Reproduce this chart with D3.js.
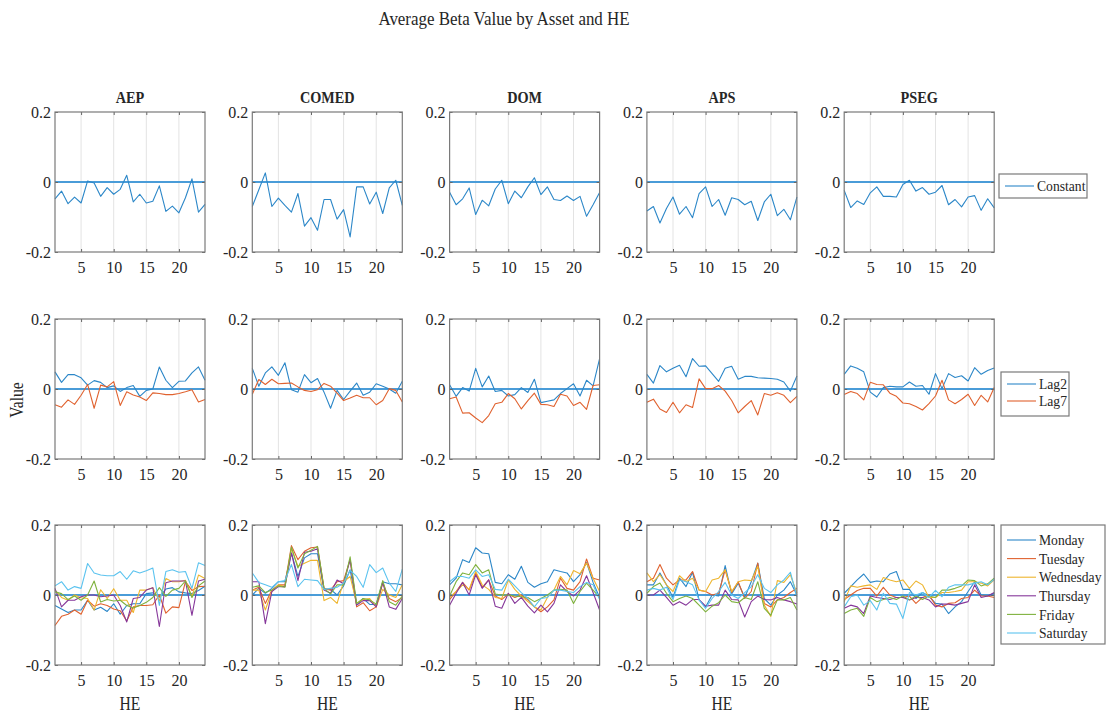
<!DOCTYPE html>
<html>
<head>
<meta charset="utf-8">
<script src="https://cdn.jsdelivr.net/npm/d3@7"></script>
<style>
  html, body { margin: 0; padding: 0; background: #fff; }
  svg text { font-family: "Liberation Serif", "Times New Roman", serif; fill: #262626; }
</style>
</head>
<body>
<svg id="chart" width="1112" height="716"></svg>
<script>
// ---------------- DATA ----------------
const assets = ["AEP", "COMED", "DOM", "APS", "PSEG"];
const hours = d3.range(1, 25);
const xTickValues = [5, 10, 15, 20];
const yTickValues = [-0.2, 0, 0.2];
const yTickLabels = ["-0.2", "0", "0.2"];
const rowSeriesNames = [["Constant"], ["Lag2", "Lag7"], ["Monday", "Tuesday", "Wednesday", "Thursday", "Friday", "Saturday"]];

// Row 1: Constant
const constAEP   = [-0.048,-0.026,-0.062,-0.043,-0.060,0.003,-0.003,-0.041,-0.016,-0.035,-0.021,0.019,-0.057,-0.035,-0.060,-0.055,-0.011,-0.084,-0.069,-0.088,-0.045,0.009,-0.086,-0.064];
const constCOMED = [-0.070,-0.022,0.026,-0.070,-0.046,-0.067,-0.086,-0.033,-0.126,-0.102,-0.138,-0.050,-0.050,-0.106,-0.079,-0.157,-0.014,-0.014,-0.063,-0.029,-0.090,-0.017,0.005,-0.067];
const constDOM   = [-0.029,-0.065,-0.048,-0.017,-0.093,-0.052,-0.068,-0.020,0.005,-0.062,-0.026,-0.045,-0.014,0.012,-0.036,-0.014,-0.050,-0.053,-0.040,-0.053,-0.041,-0.098,-0.065,-0.030];
const constAPS   = [-0.083,-0.070,-0.117,-0.076,-0.043,-0.092,-0.070,-0.102,-0.033,-0.014,-0.070,-0.050,-0.095,-0.045,-0.050,-0.065,-0.055,-0.110,-0.057,-0.035,-0.096,-0.078,-0.108,-0.043];
const constPSEG  = [-0.024,-0.073,-0.054,-0.064,-0.031,-0.014,-0.041,-0.041,-0.043,-0.007,0.005,-0.026,-0.016,-0.035,-0.029,-0.010,-0.065,-0.050,-0.071,-0.043,-0.039,-0.081,-0.048,-0.074];

// Row 2: Lag2 / Lag7
const lag2AEP   = [0.049,0.019,0.041,0.041,0.032,0.011,0.024,0.019,0.004,0.009,-0.007,0.004,0.010,-0.021,-0.004,0.000,0.063,0.025,0.004,0.022,0.023,0.046,0.063,0.025];
const lag7AEP   = [-0.045,-0.052,-0.031,-0.044,-0.018,0.013,-0.055,0.011,0.006,0.021,-0.047,-0.008,-0.017,-0.023,-0.033,-0.011,-0.013,-0.016,-0.016,-0.013,-0.008,-0.002,-0.037,-0.030];
const lag2COMED = [0.059,0.008,0.046,0.063,0.039,0.075,-0.002,-0.009,0.041,0.018,0.030,-0.009,-0.055,-0.004,-0.030,-0.006,0.017,-0.018,-0.009,0.015,0.008,0.000,-0.012,0.022];
const lag7COMED = [-0.015,0.027,0.013,0.028,0.015,0.016,0.017,0.006,-0.004,-0.007,-0.002,0.016,0.008,-0.012,-0.033,-0.026,-0.018,-0.025,-0.025,-0.045,-0.033,0.001,-0.004,-0.037];
const lag2DOM   = [0.012,-0.021,0.004,-0.006,0.059,0.006,0.037,-0.007,-0.004,-0.020,-0.016,0.004,-0.010,0.028,-0.039,-0.035,-0.031,-0.013,0.001,0.015,-0.020,0.025,0.009,0.087];
const lag7DOM   = [-0.028,-0.023,-0.069,-0.068,-0.083,-0.096,-0.076,-0.042,-0.038,-0.013,-0.028,-0.057,-0.033,-0.012,-0.044,-0.045,-0.050,-0.015,-0.020,-0.047,-0.038,-0.058,0.010,0.012];
const lag2APS   = [0.042,0.017,0.067,0.049,0.059,0.068,0.035,0.087,0.065,0.066,0.044,0.022,0.059,0.065,0.028,0.036,0.036,0.032,0.031,0.030,0.028,0.020,-0.006,0.037];
const lag7APS   = [-0.038,-0.029,-0.057,-0.067,-0.038,-0.068,-0.045,-0.053,0.029,0.001,0.001,0.010,-0.006,-0.033,-0.068,-0.050,-0.033,-0.074,-0.013,-0.018,-0.011,-0.018,-0.039,-0.021];
const lag2PSEG  = [0.042,0.066,0.059,0.049,-0.009,-0.023,0.004,0.008,0.006,0.006,0.020,0.008,0.010,-0.015,0.044,0.001,0.044,0.033,0.038,0.023,0.061,0.042,0.053,0.060];
const lag7PSEG  = [-0.016,-0.007,-0.013,-0.031,0.019,0.013,0.012,-0.012,-0.021,-0.040,-0.042,-0.050,-0.060,-0.042,-0.020,0.025,-0.031,-0.042,-0.030,-0.015,-0.047,-0.018,-0.037,0.004];

// Row 3: day-of-week effects
const monAEP = [-0.030,-0.040,-0.050,-0.043,-0.043,-0.015,-0.043,-0.035,-0.047,-0.025,-0.055,-0.030,-0.025,-0.025,0.004,0.006,-0.006,0.017,0.021,0.009,0.006,0.004,0.013,0.025];
const tueAEP = [-0.087,-0.061,-0.055,-0.043,-0.055,-0.015,-0.032,-0.025,-0.030,-0.040,-0.045,-0.074,-0.034,-0.030,-0.030,-0.028,0.000,-0.052,-0.034,-0.036,0.038,0.013,0.024,0.025];
const wedAEP = [0.014,-0.007,-0.015,0.000,-0.008,-0.010,-0.043,0.015,-0.010,0.018,-0.015,-0.015,-0.050,0.014,0.014,0.021,-0.017,0.047,0.038,0.038,0.042,-0.005,0.057,0.047];
const thuAEP = [0.019,-0.034,-0.015,-0.015,-0.005,0.000,0.000,-0.005,-0.003,0.000,-0.030,-0.077,-0.010,-0.007,0.014,0.021,-0.090,0.035,0.040,0.040,0.040,-0.058,0.040,0.045];
const friAEP = [0.009,0.004,-0.013,-0.003,-0.015,0.000,0.040,-0.020,-0.013,-0.017,-0.015,-0.030,-0.037,-0.030,-0.021,-0.007,0.021,-0.004,0.014,0.019,0.040,-0.007,0.026,0.040];
const satAEP = [0.026,0.038,0.014,0.024,0.019,0.090,0.063,0.057,0.055,0.055,0.067,0.045,0.069,0.063,0.069,0.077,-0.030,0.067,0.072,0.065,0.067,0.019,0.092,0.084];

const monCOMED = [0.000,0.019,0.005,0.019,0.038,0.038,0.120,0.053,0.106,0.118,0.118,0.016,0.016,0.000,0.026,0.072,-0.029,-0.010,-0.027,-0.027,0.038,0.032,0.032,0.029];
const tueCOMED = [0.014,0.022,-0.024,0.014,0.029,0.029,0.141,0.101,0.125,0.135,0.137,0.019,0.014,0.038,0.041,0.101,-0.034,-0.022,-0.045,-0.034,0.034,-0.010,-0.019,-0.007];
const wedCOMED = [0.014,0.014,-0.043,0.010,0.029,0.024,0.132,0.082,0.091,0.099,0.099,-0.016,-0.007,-0.024,0.038,0.053,-0.024,-0.013,-0.010,-0.034,0.016,0.000,-0.007,0.029];
const thuCOMED = [0.038,0.038,-0.082,0.010,0.024,0.024,0.120,0.041,0.122,0.125,0.132,0.014,0.005,0.043,0.032,0.101,-0.029,-0.016,-0.016,-0.034,0.036,-0.034,-0.041,-0.010];
const friCOMED = [0.022,0.026,0.007,0.014,0.026,0.022,0.137,0.077,0.118,0.128,0.139,0.019,0.003,0.029,0.029,0.109,-0.024,-0.010,-0.014,-0.026,0.041,-0.019,-0.029,-0.003];
const satCOMED = [0.063,0.036,0.029,0.022,0.038,0.041,0.087,0.024,0.045,0.043,0.041,0.016,0.019,0.022,0.034,0.070,0.053,0.022,0.087,0.064,0.077,0.034,0.010,0.074];

const monDOM = [0.029,0.048,0.101,0.093,0.135,0.120,0.118,0.036,0.032,0.058,0.045,0.082,0.036,0.022,0.032,0.038,0.072,0.067,0.063,0.038,0.058,0.093,0.036,-0.007];
const tueDOM = [-0.013,0.010,0.036,0.014,0.063,0.022,0.043,-0.003,-0.013,0.003,-0.007,0.000,-0.014,-0.034,-0.048,-0.034,-0.014,0.048,0.019,0.014,0.038,0.103,0.048,0.043];
const wedDOM = [-0.007,0.010,0.029,0.016,0.067,0.029,0.016,-0.007,-0.010,0.043,0.016,-0.003,-0.019,-0.034,-0.043,-0.007,0.014,0.053,0.029,0.070,0.061,0.091,0.048,0.010];
const thuDOM = [-0.029,0.005,0.036,0.000,0.058,0.019,0.043,-0.032,-0.038,0.005,-0.024,-0.007,-0.032,-0.051,-0.029,-0.048,-0.024,0.029,0.010,-0.003,0.014,0.055,0.007,-0.043];
const friDOM = [-0.003,0.038,0.063,0.058,0.087,0.063,0.072,0.003,0.000,0.000,-0.003,-0.005,-0.007,-0.019,-0.010,0.000,0.014,0.016,0.014,-0.024,0.010,0.034,0.014,-0.007];
const satDOM = [0.038,0.053,0.053,0.048,0.072,0.053,0.058,0.016,0.014,0.045,0.026,0.007,-0.010,-0.034,-0.010,-0.007,0.014,0.014,0.010,0.007,0.024,0.036,0.029,-0.013];

const monAPS = [0.029,0.029,0.063,0.029,-0.007,0.048,0.024,0.065,-0.014,-0.034,0.000,-0.003,0.084,0.003,0.034,-0.007,0.038,0.091,-0.010,-0.029,0.000,0.014,0.038,0.000];
const tueAPS = [0.038,0.048,0.087,0.048,0.029,0.043,0.043,0.067,0.014,0.010,0.000,0.005,0.072,0.007,0.038,-0.010,0.010,0.091,-0.024,-0.034,-0.014,-0.007,0.007,0.019];
const wedAPS = [0.063,0.038,0.058,0.029,0.010,0.055,0.038,0.048,0.014,0.010,0.043,0.048,0.072,0.010,0.038,0.043,0.041,0.082,-0.029,-0.061,0.041,0.036,0.058,0.005];
const thuAPS = [0.000,0.000,0.014,-0.007,-0.029,-0.019,-0.029,-0.013,-0.013,-0.032,-0.029,-0.029,0.014,-0.013,-0.014,-0.063,-0.019,-0.003,-0.013,-0.014,-0.007,-0.014,-0.019,-0.026];
const friAPS = [0.005,0.024,0.034,0.005,-0.019,-0.010,-0.003,-0.010,-0.029,-0.048,-0.032,-0.022,0.000,-0.019,-0.022,-0.007,-0.013,0.038,-0.038,-0.058,-0.014,-0.014,-0.007,-0.043];
const satAPS = [0.014,0.019,0.014,0.022,-0.013,0.043,0.038,0.029,-0.014,-0.038,-0.010,0.010,0.036,0.000,-0.010,0.007,0.024,0.058,0.019,0.007,0.029,0.043,0.065,-0.005];

const monPSEG = [0.005,0.024,0.043,0.060,0.036,0.040,0.038,0.060,0.067,0.016,0.016,-0.010,0.007,-0.003,-0.024,-0.026,-0.053,-0.034,-0.019,0.010,0.038,0.000,-0.003,0.005];
const tuePSEG = [-0.013,0.000,0.013,0.019,0.019,-0.003,0.022,0.000,-0.007,-0.007,-0.003,-0.024,-0.007,0.000,-0.029,-0.034,-0.024,-0.022,-0.010,-0.007,0.014,-0.003,-0.003,-0.007];
const wedPSEG = [-0.019,0.026,0.022,0.026,0.029,0.016,0.050,0.043,0.038,0.043,0.019,0.040,0.029,-0.007,-0.007,0.007,0.007,0.010,0.014,0.038,0.038,0.034,0.026,0.043];
const thuPSEG = [-0.038,-0.029,-0.034,-0.053,-0.003,-0.007,-0.010,-0.013,-0.007,-0.007,-0.014,-0.007,-0.007,-0.014,-0.034,-0.026,-0.026,-0.029,-0.024,-0.019,0.029,-0.007,-0.003,0.007];
const friPSEG = [-0.053,-0.043,-0.038,-0.061,-0.007,-0.019,-0.013,-0.007,-0.013,-0.003,-0.014,-0.003,-0.013,-0.003,-0.007,0.014,0.014,0.019,0.026,0.043,0.041,0.026,0.032,0.048];
const satPSEG = [-0.034,-0.005,0.000,-0.029,-0.016,-0.043,0.005,-0.024,-0.026,-0.067,0.007,0.000,0.007,-0.007,0.013,-0.005,0.022,0.029,0.029,0.029,0.034,0.038,0.029,0.045];

// ---------------- BUILD ----------------
const rows = [
  [[constAEP], [constCOMED], [constDOM], [constAPS], [constPSEG]],
  [[lag2AEP, lag7AEP], [lag2COMED, lag7COMED], [lag2DOM, lag7DOM], [lag2APS, lag7APS], [lag2PSEG, lag7PSEG]],
  [[monAEP, tueAEP, wedAEP, thuAEP, friAEP, satAEP],
   [monCOMED, tueCOMED, wedCOMED, thuCOMED, friCOMED, satCOMED],
   [monDOM, tueDOM, wedDOM, thuDOM, friDOM, satDOM],
   [monAPS, tueAPS, wedAPS, thuAPS, friAPS, satAPS],
   [monPSEG, tuePSEG, wedPSEG, thuPSEG, friPSEG, satPSEG]]
];

const colors = ["#2c87c8", "#e0622f", "#eeb52e", "#86379a", "#7fb23e", "#5bc3ef"];
const zeroColor = "#4a9cd8";

const svg = d3.select("#chart");
const panelW = 150, panelH = 140;
const colX = d3.range(5).map(i => 55 + i * 197.3);
const rowY = [112, 319, 525];

svg.append("text").attr("transform", "translate(504,25) scale(0.94,1.08)").attr("text-anchor", "middle")
  .style("font-size", "18px").text("Average Beta Value by Asset and HE");

svg.append("text").attr("transform", "translate(23,400) rotate(-90) scale(0.92,1.1)").attr("text-anchor", "middle")
  .style("font-size", "17px").text("Value");

const x = d3.scaleLinear().domain([1, 24]).range([0, panelW]);
const y = d3.scaleLinear().domain([-0.2, 0.2]).range([panelH, 0]);
const line = d3.line().x((d, i) => x(hours[i])).y(d => y(d));

rows.forEach((rowData, r) => {
  rowData.forEach((seriesList, c) => {
    const g = svg.append("g").attr("transform", `translate(${colX[c]},${rowY[r]})`);
    g.append("rect").attr("width", panelW).attr("height", panelH).attr("fill", "#fff");
    // grid
    g.selectAll("line.grid").data(xTickValues).enter().append("line")
      .attr("x1", d => x(d)).attr("x2", d => x(d)).attr("y1", 0).attr("y2", panelH)
      .attr("stroke", "#e3e3e3").attr("stroke-width", 1);
    // zero line
    g.append("line").attr("x1", 0).attr("x2", panelW).attr("y1", y(0)).attr("y2", y(0))
      .attr("stroke", zeroColor).attr("stroke-width", 2);
    // series
    seriesList.forEach((vals, k) => {
      g.append("path").datum(vals).attr("d", line).attr("fill", "none")
        .attr("stroke", colors[k]).attr("stroke-width", 1.1).attr("stroke-linejoin", "round");
    });
    // axes
    const ax = g.append("g").attr("transform", `translate(0,${panelH})`)
      .call(d3.axisBottom(x).tickValues(xTickValues).tickSize(-3).tickPadding(10).tickFormat(d3.format("d")));
    const axT = g.append("g").call(d3.axisTop(x).tickValues(xTickValues).tickSize(-3).tickFormat(""));
    const ay = g.append("g")
      .call(d3.axisLeft(y).tickValues(yTickValues).tickSize(-3).tickPadding(4).tickFormat((d, i) => yTickLabels[i]));
    const ayR = g.append("g").attr("transform", `translate(${panelW},0)`)
      .call(d3.axisRight(y).tickValues(yTickValues).tickSize(-3).tickFormat(""));
    [ax, axT, ay, ayR].forEach(a => {
      a.select(".domain").remove();
      a.selectAll(".tick line").attr("stroke", "#666");
      a.selectAll("text").style("font-size", "16px").style("font-family", "Liberation Serif").attr("fill", "#262626");
    });
    g.append("rect").attr("width", panelW).attr("height", panelH).attr("fill", "none")
      .attr("stroke", "#7a7a7a").attr("stroke-width", 1.2);
    if (r === 0) {
      g.append("text").attr("transform", `translate(${panelW / 2},-9) scale(0.84,1)`).attr("text-anchor", "middle")
        .style("font-size", "17px").style("font-weight", "bold").text(assets[c]);
    }
    if (r === 2) {
      g.append("text").attr("transform", `translate(${panelW / 2},${panelH + 45}) scale(0.92,1.08)`).attr("text-anchor", "middle")
        .style("font-size", "17px").text("HE");
    }
  });
});

// legends
const legendBoxes = [
  { x: 999, y: 174, w: 88, h: 24, y0: 186, dy: 0 },
  { x: 1001, y: 372, w: 68, h: 44, y0: 384, dy: 17 },
  { x: 1001, y: 525, w: 104, h: 119, y0: 540, dy: 18.6 }
];
legendBoxes.forEach((b, r) => {
  const lg = svg.append("g");
  lg.append("rect").attr("x", b.x).attr("y", b.y).attr("width", b.w).attr("height", b.h)
    .attr("fill", "#fff").attr("stroke", "#7a7a7a").attr("stroke-width", 1.2);
  rowSeriesNames[r].forEach((name, k) => {
    const yy = b.y0 + k * b.dy;
    lg.append("line").attr("x1", b.x + 6).attr("x2", b.x + 35).attr("y1", yy).attr("y2", yy)
      .attr("stroke", colors[k]).attr("stroke-width", 1.1);
    lg.append("text").attr("transform", `translate(${b.x + 38},${yy}) scale(0.94,1.02)`).attr("dy", "0.35em")
      .style("font-size", "14.5px").text(name);
  });
});
</script>
</body>
</html>
